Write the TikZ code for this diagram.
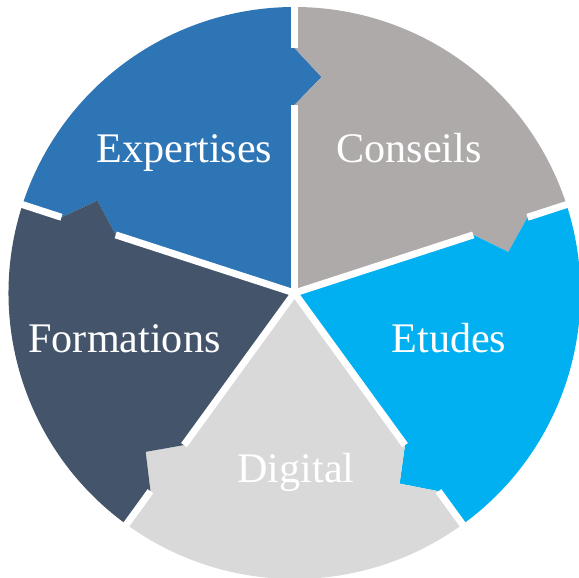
\documentclass[tikz,border=0pt]{standalone}
\usepackage{fontspec}
\setmainfont{Liberation Serif}
\usetikzlibrary{calc}

\definecolor{expBlue}{RGB}{46,117,182}
\definecolor{consGray}{RGB}{174,170,170}
\definecolor{etuCyan}{RGB}{0,176,240}
\definecolor{formSlate}{RGB}{68,84,106}
\definecolor{digiGray}{RGB}{217,217,217}

\tikzset{
  label/.style={text=white, inner sep=0pt, anchor=base, font=\fontsize{24}{28}\selectfont},
  gapline/.style={white, line width=7\pxunit}
}
% one pixel of the reference
\newlength{\pxunit}
\setlength{\pxunit}{0.02cm}

% sector from angle #1 clockwise to #1-72, notch at #1, arrow at #1-72
\newcommand{\cyclepart}[2]{%
  \pgfmathsetmacro{\endang}{#1-72}
  \fill[#2] (0,0) -- (#1:188) -- ($(#1:216)+(#1-90:27)$) -- (#1:245) -- (#1:286)
    arc[start angle=#1, end angle=\endang, radius=286]
    -- (\endang:245) -- ($(\endang:216)+(\endang-90:27)$) -- (\endang:188) -- cycle;
}

\begin{document}
\begin{tikzpicture}[x=0.02cm, y=0.02cm]
    \useasboundingbox (-294.5,-285) rectangle (284.5,293);

    %Sectors
    \cyclepart{162}{expBlue}
    \cyclepart{90}{consGray}
    \cyclepart{18}{etuCyan}
    \cyclepart{-54}{digiGray}
    \cyclepart{-126}{formSlate}

    %Gaps
    \foreach \a in {90,18,-54,-126,162} {
      \draw[gapline] (0,0) -- (\a:188);
      \draw[gapline] (\a:245) -- (\a:300);
    }

    %Labels
    \node[label] (expertises) at (-110,130.3) {Expertises};
    \node[label] (conseils) at (114.5,130) {Conseils};
    \node[label] (etudes) at (154.5,-60) {Etudes};
    \node[label] (formations) at (-170,-60) {Formations};
    \node[label] (digital) at (1.5,-190) {Digital};
\end{tikzpicture}
\end{document}
